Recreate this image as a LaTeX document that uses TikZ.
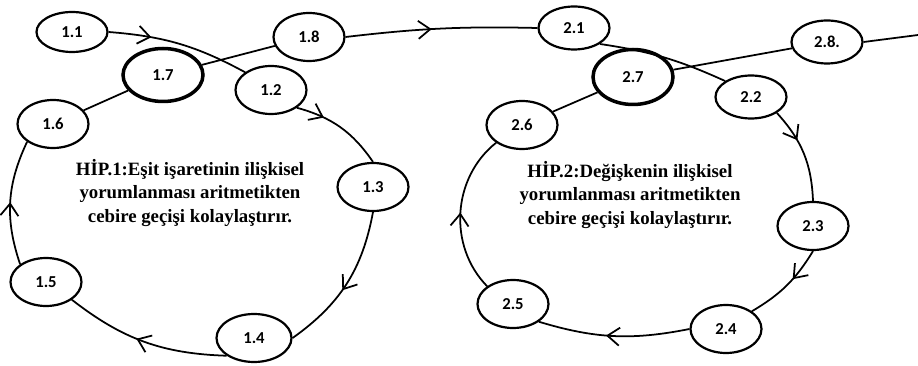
\documentclass[tikz,border=0pt]{standalone}
\usepackage{fontspec}
\setmainfont{Liberation Serif}
\newfontfamily\labelfont{Carlito}
\usetikzlibrary{shapes.geometric,arrows.meta,decorations.markings}

\begin{document}
\begin{tikzpicture}[x=0.02cm,y=0.02cm,
  stage/.style={ellipse,draw,line width=1.25pt,minimum width=1.42cm,minimum height=0.96cm,inner sep=0pt,font=\labelfont\bfseries\fontsize{9.5}{11}\selectfont},
  keystage/.style={stage,line width=2pt,minimum width=1.6cm,minimum height=1.06cm},
  link/.style={line width=1pt},
  midarrow/.style={link,postaction={decorate},decoration={markings,mark=at position #1 with {\arrow{Straight Barb[length=2.4mm,width=3.6mm,line width=1pt]}}}},
  hyp/.style={align=center,font=\bfseries\fontsize{10.7}{13.3}\selectfont}]
\useasboundingbox (0,0) rectangle (918,365);
\node[stage,minimum height=0.8cm] (n11) at (72,333) {1.1};
\node[stage] (n12) at (271,275) {1.2};
\node[stage] (n13) at (373,178) {1.3};
\node[stage,minimum width=1.5cm] (n14) at (254,27) {1.4};
\node[stage] (n15) at (46,83) {1.5};
\node[stage] (n16) at (53,241) {1.6};
\node[keystage] (n17) at (163,290) {1.7};
\node[stage] (n18) at (309,328) {1.8};
\node[stage,minimum height=0.86cm] (n21) at (574,337) {2.1};
\node[stage,minimum height=0.86cm] (n22) at (751,268) {2.2};
\node[stage] (n23) at (813,139) {2.3};
\node[stage] (n24) at (726,36) {2.4};
\node[stage] (n25) at (513,61) {2.5};
\node[stage] (n26) at (522,240) {2.6};
\node[keystage,minimum height=1.1cm] (n27) at (633,288) {2.7};
\node[stage,minimum height=0.86cm] (n28) at (827,323) {2.8.};
\coordinate (exit) at (918,330);
\node[hyp] (hyp1) at (190,172) {HİP.1:Eşit işaretinin ilişkisel\\yorumlanması aritmetikten\\cebire geçişi kolaylaştırır.};
\node[hyp] (hyp2) at (630,170) {HİP.2:Değişkenin ilişkisel\\yorumlanması aritmetikten\\cebire geçişi kolaylaştırır.};
\draw[midarrow=0.3] (n11.east) to[bend left=12] (n12.north west);
\draw[midarrow=0.3] (n12.south east) to[bend left=20] (n13.north);
\draw[midarrow=0.55] (n13.south) to[bend left=22] (n14.east);
\draw[midarrow=0.55] (n14.south west) to[bend left=18] (n15.south east);
\draw[midarrow=0.5] (n15.north west) to[bend left=22] (n16.south west);
\draw[link] (n16) -- (n17);
\draw[link] (n17) -- (n18);
\draw[midarrow=0.45] (n18.east) to[bend left=4] (n21.west);
\draw[link] (n21.south east) to[bend left=8] (n22.north west);
\draw[midarrow=0.35] (n22.south east) to[bend left=20] (n23.north);
\draw[midarrow=0.4] (n23.south) to[bend left=14] (n24.north east);
\draw[midarrow=0.55] (n24.west) to[bend left=14] (n25.south east);
\draw[midarrow=0.5] (n25.north west) to[bend left=48] (n26.south west);
\draw[link] (n26) -- (n27);
\draw[link] (n27) -- (n28);
\draw[link] (n28.east) -- (exit);
\end{tikzpicture}
\end{document}
